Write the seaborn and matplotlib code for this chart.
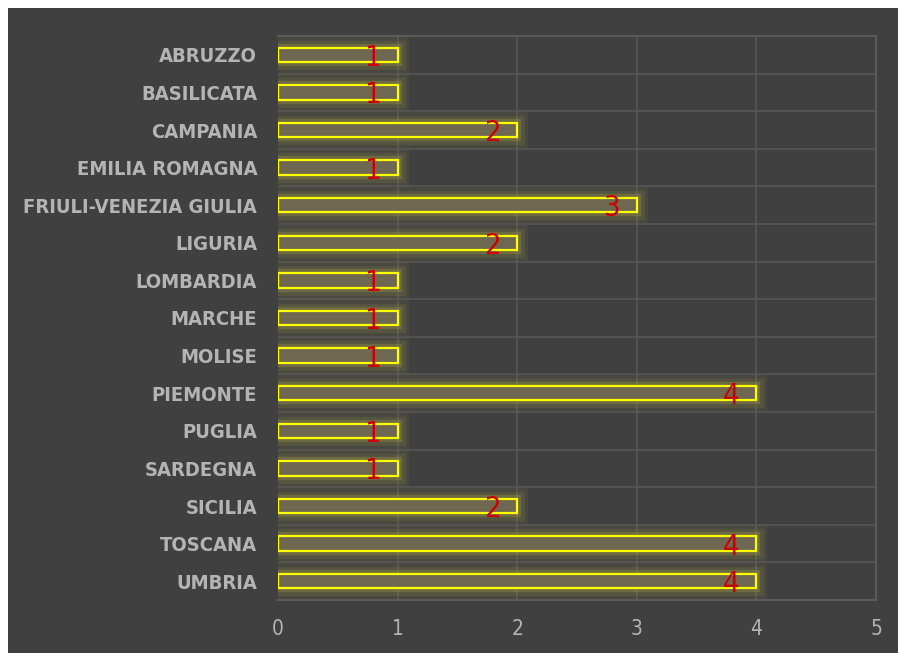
import matplotlib
matplotlib.use("Agg")
import matplotlib.pyplot as plt
import matplotlib.patheffects as pe
import matplotlib.patches as mpatches
import seaborn as sns
import pandas as pd

regioni = ["ABRUZZO", "BASILICATA", "CAMPANIA", "EMILIA ROMAGNA", "FRIULI-VENEZIA GIULIA",
           "LIGURIA", "LOMBARDIA", "MARCHE", "MOLISE", "PIEMONTE", "PUGLIA", "SARDEGNA",
           "SICILIA", "TOSCANA", "UMBRIA"]
valori = [1, 1, 2, 1, 3, 2, 1, 1, 1, 4, 1, 1, 2, 4, 4]
x_ticks = [0, 1, 2, 3, 4, 5]

sns.set_style("dark")
plt.rcParams["font.family"] = ["DejaVu Sans"]
plt.rcParams["font.stretch"] = "condensed"

bg = "#404040"
grid = "#565656"
fig = plt.figure(figsize=(8.98, 6.53), dpi=100, facecolor="white")
# bordo bianco in alto e a sinistra come nell'originale
fig.patches.append(mpatches.Rectangle((8 / 898, 0), 1, 1 - 8 / 653, transform=fig.transFigure,
                                      facecolor=bg, edgecolor="none", zorder=-10))
ax = fig.add_axes([278 / 898, 1 - 600 / 653, (876 - 278) / 898, (600 - 36) / 653])
ax.set_facecolor(bg)

df = pd.DataFrame({"regione": regioni, "valore": valori})
sns.barplot(data=df, y="regione", x="valore", orient="h", ax=ax, width=0.38,
            color="#6e6850", edgecolor="#ffff00", linewidth=1.6, saturation=1)

glow = [pe.Stroke(linewidth=16, foreground="#8a8440", alpha=0.12),
        pe.Stroke(linewidth=11, foreground="#948e44", alpha=0.18),
        pe.Stroke(linewidth=6, foreground="#a8a048", alpha=0.3),
        pe.Normal()]
for p in ax.patches:
    p.set_path_effects(glow)

for i, v in enumerate(valori):
    ax.text(v - 0.21, i + 0.08, str(v), color="#cc0000", fontsize=21,
            ha="center", va="center", zorder=5)

ax.set_xlim(0, 5)
ax.set_ylim(14.5, -0.5)
ax.set_xticks(x_ticks)
ax.set_yticks(range(len(regioni)))
ax.set_yticklabels(regioni, fontsize=14.5, fontweight="bold", color="#b4b4b4")
ax.set_xticklabels([str(t) for t in x_ticks], fontsize=15, color="#b4b4b4")
ax.tick_params(axis="y", length=0, pad=15)
ax.tick_params(axis="x", length=0, pad=14)
ax.set_xlabel("")
ax.set_ylabel("")

for x in x_ticks[1:]:
    ax.axvline(x, color=grid, linewidth=1.2, zorder=0.5)
for y in range(len(regioni) - 1):
    ax.axhline(y + 0.5, color=grid, linewidth=1.2, zorder=0.5)

ax.spines["left"].set_visible(False)
for side in ["top", "right", "bottom"]:
    ax.spines[side].set_visible(True)
    ax.spines[side].set_color("#5a5a5a")
    ax.spines[side].set_linewidth(1.5)

fig.savefig("out.png", dpi=100, facecolor="white")
